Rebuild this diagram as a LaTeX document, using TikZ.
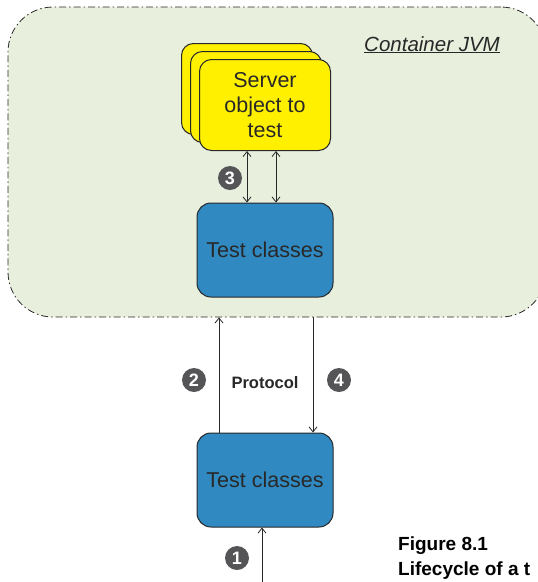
\documentclass[tikz,border=0pt]{standalone}
\usepackage{fontspec}
\setmainfont{Liberation Sans}
\usepackage{xcolor}
\definecolor{jvmgreen}{RGB}{232, 239, 221}
\definecolor{serveryellow}{RGB}{255, 240, 0}
\definecolor{testblue}{RGB}{48, 137, 192}
\definecolor{badgegrey}{RGB}{85, 85, 87}
\definecolor{edgegrey}{RGB}{40, 40, 40}
\usetikzlibrary{
  arrows.meta,
  positioning,
  calc
}

\begin{document}
\begin{tikzpicture}[x=1pt, y=-1pt,
  container/.style={draw=edgegrey, fill=jvmgreen, line width=0.8pt,
    rounded corners=45pt, dash pattern=on 7pt off 3pt on 1.5pt off 3pt,
    minimum width=538pt, minimum height=310pt},
  serverbox/.style={draw=edgegrey, line width=1pt, fill=serveryellow,
    rounded corners=12pt, minimum width=131pt, minimum height=91pt},
  testbox/.style={draw=edgegrey, line width=1pt, fill=testblue,
    rounded corners=14pt, minimum width=136pt, minimum height=94pt,
    text=edgegrey, font=\fontsize{21.5}{25}\selectfont},
  badge/.style={circle, fill=badgegrey, text=white, minimum size=24pt,
    inner sep=0pt, font=\fontsize{18}{18}\selectfont\bfseries},
  link/.style={edgegrey, line width=0.8pt, -{Straight Barb[length=5pt, width=8pt]}},
  duplex/.style={edgegrey, line width=0.8pt,
    {Straight Barb[length=5pt, width=8pt]}-{Straight Barb[length=5pt, width=8pt]}}
]

  \useasboundingbox (0,0) rectangle (538,582);
  \clip (0,0) rectangle (538,582);

  % the container jvm
  \node[container] (jvm) at (277,162) {};
  \node[anchor=base, font=\fontsize{20.5}{24}\selectfont\itshape, text=edgegrey]
    (jvmlabel) at (432,51) {\underline{Container JVM}};

  % stacked server objects
  \node[serverbox] (srvback) at (247,89) {};
  \node[serverbox] (srvmid) at (256,97) {};
  \node[serverbox, align=center, text=edgegrey, font=\fontsize{21.5}{25}\selectfont]
    (srv) at (265,105) {Server\\object to\\test};

  % test classes inside and outside the container
  \node[testbox] (tc1) at (265,250) {Test classes};
  \node[testbox] (tc2) at (265,480) {Test classes};

  % step 3: tests talk to the server objects
  \draw[duplex] ([xshift=-18pt]srv.south) -- ([xshift=-18pt]tc1.north);
  \draw[duplex] ([xshift=11pt]srv.south) -- ([xshift=11pt]tc1.north);
  \node[badge] (b3) at (230,178) {3};

  % steps 2 and 4: the protocol
  \coordinate (p2) at ([xshift=-46pt]tc2.north);
  \coordinate (p4) at ([xshift=48pt]tc2.north);
  \draw[link] (p2) -- (p2 |- jvm.south);
  \draw[link] (p4 |- jvm.south) -- (p4);
  \node[badge] (b2) at (194,380) {2};
  \node[badge] (b4) at (339,380) {4};
  \node[font=\fontsize{16.5}{18}\selectfont\bfseries, text=edgegrey] (proto) at (265,383) {Protocol};

  % step 1: the client starts
  \coordinate (entry) at (262,586);
  \draw[link] (entry) -- (entry |- tc2.south);
  \node[badge] (b1) at (237,558) {1};

  % caption
  \node[anchor=base west, inner sep=0pt, font=\fontsize{19}{22}\selectfont\bfseries] (fignum) at (398,550) {Figure 8.1};
  \node[anchor=base west, inner sep=0pt, font=\fontsize{19}{22}\selectfont\bfseries] (figtitle) at (398,575) {Lifecycle of a t};

\end{tikzpicture}
\end{document}
